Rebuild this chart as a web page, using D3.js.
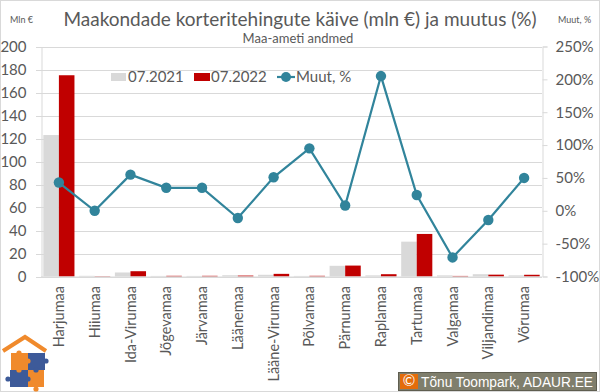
<!DOCTYPE html>
<html><head><meta charset="utf-8">
<script src="https://cdn.jsdelivr.net/npm/d3@7/dist/d3.min.js"></script>
<style>body{margin:0;background:#fff}svg{display:block}text{font-family:Lato,"Open Sans",sans-serif}</style>
</head><body>
<svg id="c" width="600" height="392"></svg>
<script>
const categories = ["Harjumaa","Hiiumaa","Ida-Virumaa","Jõgevamaa","Järvamaa","Läänemaa","Lääne-Virumaa","Põlvamaa","Pärnumaa","Raplamaa","Tartumaa","Valgamaa","Viljandimaa","Võrumaa"];
const values2021 = [123, 0.6, 3.5, 0.5, 0.5, 1.1, 1.5, 0.5, 9.3, 1.0, 30.3, 1.0, 2.0, 1.0];
const values2022 = [175, 0.3, 4.6, 0.6, 0.6, 0.8, 2.3, 0.6, 9.5, 2.0, 37.0, 0.5, 1.6, 1.5];
const changePct = [43, 0, 55, 35, 35, -11, 51, 95, 8, 205, 24, -71, -14, 50];
const leftTicks = [0,20,40,60,80,100,120,140,160,180,200];
const rightTicks = [-100,-50,0,50,100,150,200,250];
const seriesNames = ["07.2021","07.2022","Muut, %"];

const svg = d3.select("#c");
const X0 = 41, X1 = 542, Y0 = 276.5, Y1 = 46.5;
const txt = "#595959", grid = "#d9d9d9";
const cGray = "#d9d9d9", cRed = "#c00000", cLine = "#31849b";

const x = d3.scaleBand().domain(categories).range([X0, X1]).paddingInner(0.13).paddingOuter(0.065);
const xs = d3.scaleBand().domain([0,1]).range([0, x.bandwidth()]);
const yL = d3.scaleLinear().domain([0,200]).range([Y0, Y1]);
const yR = d3.scaleLinear().domain([-100,250]).range([Y0, Y1]);

// border
svg.append("rect").attr("x",0.5).attr("y",0.5).attr("width",599).attr("height",391).attr("fill","#fff").attr("stroke",grid);

// gridlines
svg.append("g").selectAll("line").data(leftTicks).join("line")
  .attr("x1",X0-5).attr("x2",X1).attr("y1",d=>Math.round(yL(d))+0.5).attr("y2",d=>Math.round(yL(d))+0.5)
  .attr("stroke",grid).attr("stroke-width",1);

// left axis
const gl = svg.append("g").attr("transform",`translate(${X0+0.5},0)`)
  .call(d3.axisLeft(yL).tickValues(leftTicks).tickSize(0).tickPadding(15));
gl.select(".domain").attr("stroke",grid);
gl.selectAll("text").attr("fill",txt).style("font-size","15px").style("font-family","Lato");

// right axis
const gr = svg.append("g").attr("transform",`translate(${X1+0.5},0)`)
  .call(d3.axisRight(yR).tickValues(rightTicks).tickSize(5).tickPadding(8).tickFormat(d=>d+"%"));
gr.select(".domain").attr("stroke",grid);
gr.selectAll(".tick line").attr("stroke",grid);
gr.selectAll("text").attr("fill",txt).style("font-size","15px").style("font-family","Lato");

// bars
const gb = svg.append("g");
gb.selectAll("rect.a").data(categories).join("rect").attr("class","a")
  .attr("x",(d,i)=>x(d)+xs(0)).attr("width",xs.bandwidth())
  .attr("y",(d,i)=>yL(values2021[i])).attr("height",(d,i)=>Y0-yL(values2021[i]))
  .attr("fill",cGray);
gb.selectAll("rect.b").data(categories).join("rect").attr("class","b")
  .attr("x",(d,i)=>x(d)+xs(1)).attr("width",xs.bandwidth())
  .attr("y",(d,i)=>yL(values2022[i])).attr("height",(d,i)=>Y0-yL(values2022[i]))
  .attr("fill",cRed);

// x axis
const gx = svg.append("g").attr("transform",`translate(0,${Y0+0.5})`)
  .call(d3.axisBottom(x).tickSize(0).tickPadding(0));
gx.select(".domain").attr("stroke",grid).attr("d",`M${X0},0H${X1}`);
gx.selectAll("text").attr("fill",txt).style("font-size","14.5px").style("font-family","Lato")
  .attr("transform","rotate(-90)").attr("text-anchor","end").attr("x",-9).attr("y",0).attr("dy","0.35em");

// line
const cx = d => x(d) + x.bandwidth()/2;
svg.append("path").datum(categories)
  .attr("d", d3.line().x(d=>cx(d)).y((d,i)=>yR(changePct[i])))
  .attr("fill","none").attr("stroke",cLine).attr("stroke-width",2.2);
svg.append("g").selectAll("circle").data(categories).join("circle")
  .attr("cx",d=>cx(d)).attr("cy",(d,i)=>yR(changePct[i])).attr("r",5.2).attr("fill",cLine);

// title area
svg.append("rect").attr("x",66).attr("y",4).attr("width",466).attr("height",42).attr("fill","#fff");
svg.append("text").attr("x",300).attr("y",26).attr("text-anchor","middle").attr("fill",txt)
  .style("font-size","19px").text("Maakondade korteritehingute käive (mln €) ja muutus (%)");
svg.append("text").attr("x",298).attr("y",43).attr("text-anchor","middle").attr("fill",txt)
  .style("font-size","13px").text("Maa-ameti andmed");
svg.append("text").attr("x",10).attr("y",23).attr("fill",txt).style("font-size","9px").text("Mln €");
svg.append("text").attr("x",558).attr("y",23).attr("fill",txt).style("font-size","9px").text("Muut, %");

// legend
const lg = svg.append("g").attr("transform","translate(0,77)");
lg.append("rect").attr("x",111).attr("y",-4).attr("width",15).attr("height",8).attr("fill",cGray);
lg.append("text").attr("x",128).attr("y",0).attr("dy","0.35em").attr("fill",txt).style("font-size","15px").text(seriesNames[0]);
lg.append("rect").attr("x",194).attr("y",-4).attr("width",16).attr("height",8).attr("fill",cRed);
lg.append("text").attr("x",211).attr("y",0).attr("dy","0.35em").attr("fill",txt).style("font-size","15px").text(seriesNames[1]);
lg.append("line").attr("x1",277).attr("x2",295).attr("y1",0).attr("y2",0).attr("stroke",cLine).attr("stroke-width",2.2);
lg.append("circle").attr("cx",286).attr("cy",0).attr("r",5).attr("fill",cLine);
lg.append("text").attr("x",296).attr("y",0).attr("dy","0.35em").attr("fill",txt).style("font-size","15px").text(seriesNames[2]);

// logo
const logo = svg.append("g");
logo.append("rect").attr("x",1).attr("y",328).attr("width",51).attr("height",63).attr("fill","#fff");
logo.append("path").attr("d","M3,351 L25,337 L46,351").attr("fill","none").attr("stroke","#f08a2c").attr("stroke-width",4);
const org = "#f08a2c", blu = "#3d5a99";
logo.append("rect").attr("x",11).attr("y",353).attr("width",17).attr("height",17).attr("fill",org);
logo.append("rect").attr("x",28).attr("y",353).attr("width",17).attr("height",17).attr("fill",blu);
logo.append("rect").attr("x",10).attr("y",370).attr("width",18).attr("height",17).attr("fill",blu);
logo.append("rect").attr("x",28).attr("y",370).attr("width",16).attr("height",17).attr("fill",org);
[[28,361,org],[36,370,blu],[19,370,org],[28,379,blu],[8,379,blu],[46,361,blu],[36,389,org],[19,353,org]].forEach(p=>{
  logo.append("circle").attr("cx",p[0]).attr("cy",p[1]).attr("r",2.6).attr("fill",p[2]);
});

// copyright
const cr = svg.append("g");
cr.append("rect").attr("x",398.5).attr("y",372.5).attr("width",198).attr("height",18).attr("fill","#7f7e6c").attr("stroke","#5f5e50");
cr.append("rect").attr("x",400).attr("y",374).attr("width",18).attr("height",15).attr("fill","#e46c0a");
cr.append("text").attr("x",409).attr("y",386).attr("text-anchor","middle").attr("fill","#fff").style("font-size","15px").text("©");
cr.append("text").attr("x",421).attr("y",386.5).attr("fill","#fff").style("font-family","'Liberation Sans'").style("font-size","14px")
  .attr("textLength",172).attr("lengthAdjust","spacingAndGlyphs").text("Tõnu Toompark, ADAUR.EE");
</script>
</body></html>
